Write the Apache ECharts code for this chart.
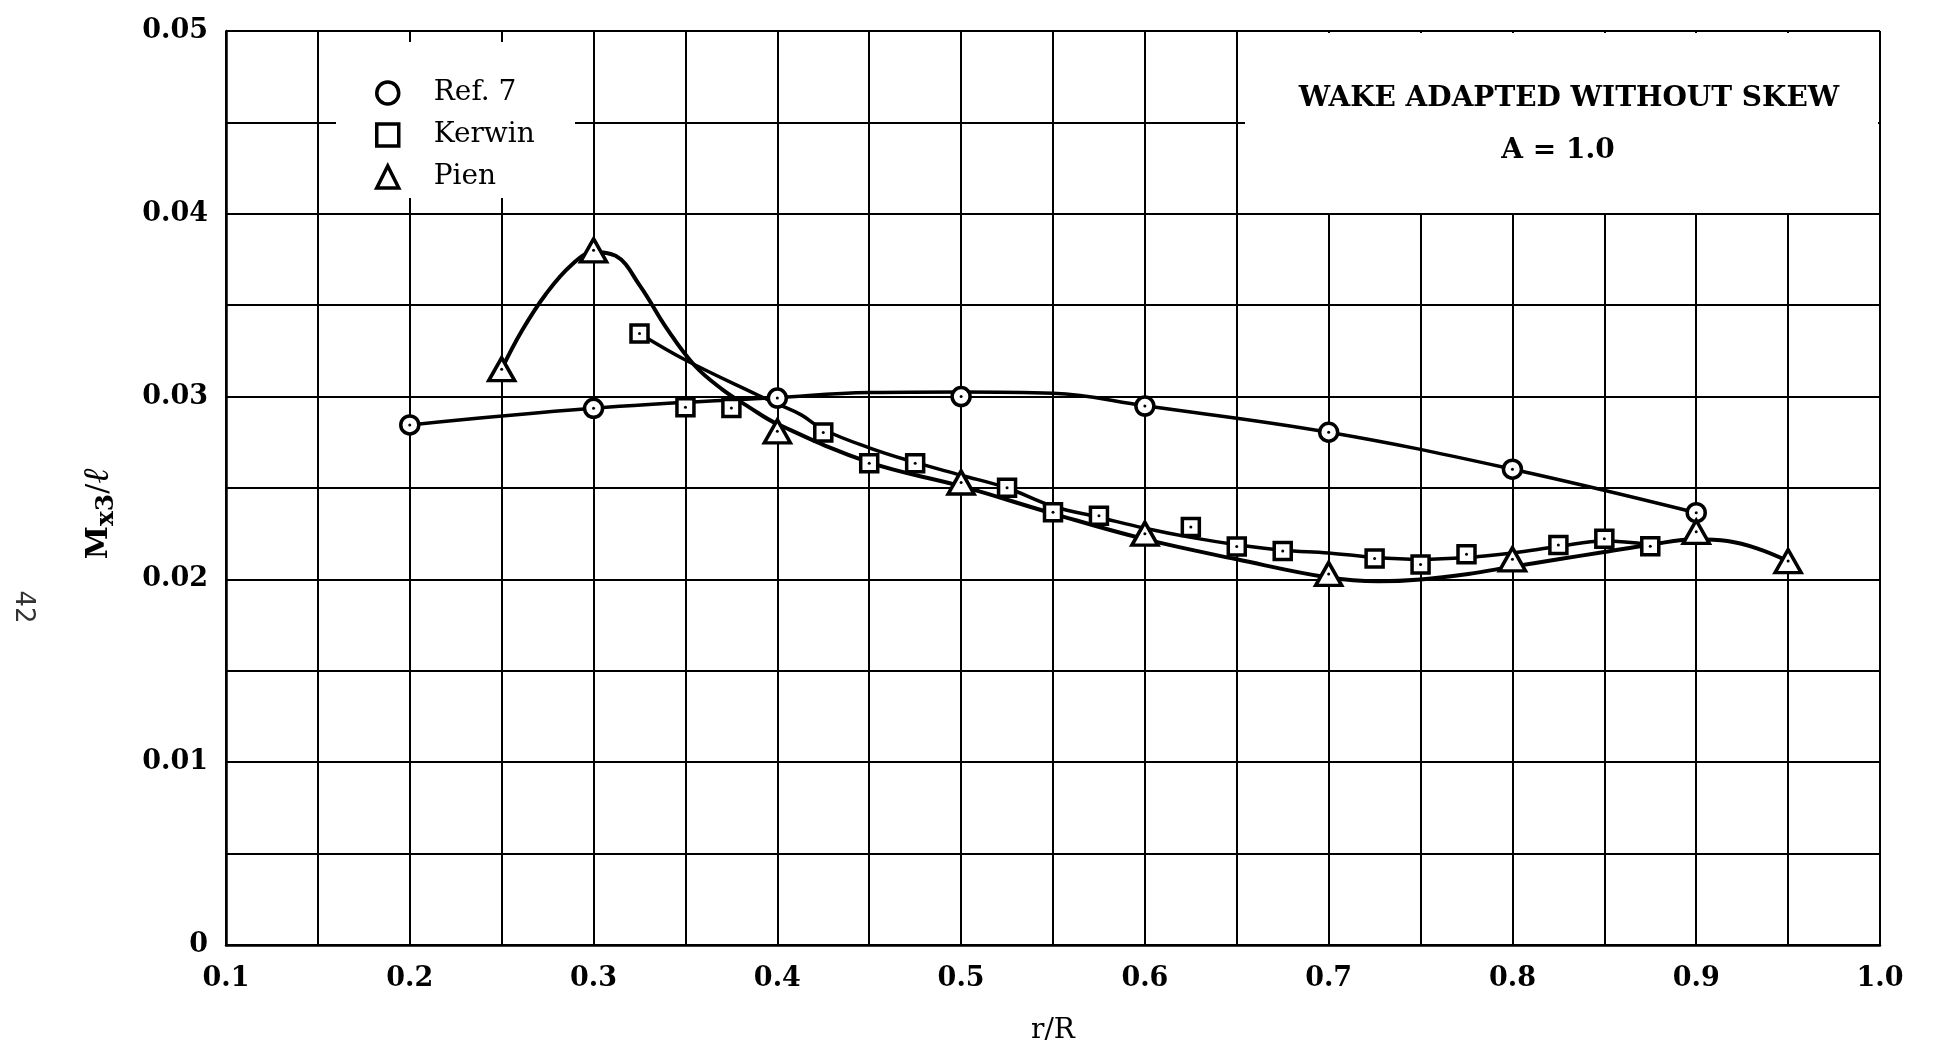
<!DOCTYPE html>
<html>
<head>
<meta charset="utf-8">
<script src="https://cdn.jsdelivr.net/npm/echarts@6/dist/echarts.min.js"></script>
<style>
  html, body { margin: 0; padding: 0; background: #fff; }
  #chart { width: 1934px; height: 1050px; }
</style>
</head>
<body>
<div id="chart"></div>
<script>
// Plotted points (r/R, Mx3/l) for each method
const ref7R = [0.2, 0.3, 0.4, 0.5, 0.6, 0.7, 0.8, 0.9];
const ref7M = [0.02845, 0.02936, 0.02992, 0.03000, 0.02948, 0.02805, 0.02603, 0.02365];

const kerwinR = [0.325, 0.35, 0.375, 0.425, 0.45, 0.475, 0.525, 0.55, 0.575, 0.625, 0.65, 0.675, 0.725, 0.75, 0.775, 0.825, 0.85, 0.875];
const kerwinM = [0.03345, 0.02942, 0.02938, 0.02804, 0.02636, 0.02636, 0.02502, 0.02368, 0.02348, 0.02287, 0.02180, 0.02155, 0.02115, 0.02082, 0.02138, 0.02188, 0.02222, 0.02182];

const pienR = [0.25, 0.3, 0.4, 0.5, 0.6, 0.7, 0.8, 0.9, 0.95];
const pienM = [0.0315, 0.0380, 0.0281, 0.0253, 0.0225, 0.0203, 0.0211, 0.0226, 0.0210];

// Faired curves drawn through the points
const ref7CurveR = [0.2, 0.3, 0.4, 0.45, 0.5, 0.55, 0.6, 0.7, 0.8, 0.9];
const ref7CurveM = [0.02845, 0.02936, 0.02995, 0.03022, 0.03025, 0.03018, 0.02950, 0.02805, 0.02603, 0.02365];

const kerwinCurveR = [0.325, 0.35, 0.389, 0.4, 0.413, 0.425, 0.45, 0.475, 0.5, 0.525, 0.55, 0.575, 0.6, 0.625, 0.65, 0.675, 0.7, 0.725, 0.75, 0.775, 0.8, 0.825, 0.85, 0.875];
const kerwinCurveM = [0.03345, 0.0320, 0.0301, 0.0296, 0.0290, 0.0282, 0.0272, 0.0264, 0.0257, 0.0250, 0.0240, 0.0234, 0.0228, 0.0223, 0.0219, 0.0216, 0.02145, 0.0212, 0.0211, 0.0212, 0.02145, 0.0218, 0.0221, 0.0219];

const pienCurveR = [0.25, 0.261, 0.274, 0.288, 0.3, 0.312, 0.325, 0.34, 0.355, 0.37, 0.385, 0.4, 0.45, 0.5, 0.55, 0.6, 0.65, 0.7, 0.727, 0.75, 0.776, 0.8, 0.825, 0.85, 0.875, 0.9, 0.917, 0.933, 0.95];
const pienCurveM = [0.0315, 0.0336, 0.0356, 0.0372, 0.0379, 0.0377, 0.0361, 0.0337, 0.0317, 0.0304, 0.0294, 0.0285, 0.0264, 0.0251, 0.0236, 0.0222, 0.0211, 0.0201, 0.0199, 0.0200, 0.0203, 0.0207, 0.0211, 0.0215, 0.0219, 0.0222, 0.0221, 0.0217, 0.0210];

// Axis ticks
const xTicks = [0.1, 0.2, 0.3, 0.4, 0.5, 0.6, 0.7, 0.8, 0.9, 1.0];
const yTicks = [0, 0.01, 0.02, 0.03, 0.04, 0.05];

const SERIF = "'DejaVu Serif', 'Liberation Serif', serif";
const pairs = (xs, ys) => xs.map((x, i) => [x, ys[i]]);
const markerStyle = { color: '#fff', borderColor: '#000', borderWidth: 3.5, opacity: 1 };

function curve(xs, ys, width) {
  return {
    type: 'line', data: pairs(xs, ys), smooth: 0.4, symbol: 'none', silent: true,
    lineStyle: { color: '#000', width: width }, z: 2
  };
}
function markers(name, xs, ys, symbol, size) {
  return {
    name: name, type: 'scatter', data: pairs(xs, ys), symbol: symbol, symbolSize: size,
    itemStyle: markerStyle, z: 3, silent: true
  };
}
function dots(xs, ys) {
  return {
    type: 'scatter', data: pairs(xs, ys), symbol: 'circle', symbolSize: 3,
    itemStyle: { color: '#000', opacity: 1 }, z: 4, silent: true
  };
}

const gridLine = { show: true, lineStyle: { color: '#000', width: 2 } };
const boldTitle = { fontFamily: SERIF, fontSize: 28, fontWeight: 'bold', color: '#000', lineHeight: 32 };

const chart = echarts.init(document.getElementById('chart'), null, { renderer: 'canvas' });
chart.setOption({
  backgroundColor: '#fff',
  animation: false,
  title: [
    { text: 'WAKE ADAPTED WITHOUT SKEW', left: 1564, top: 78, textAlign: 'center', textStyle: boldTitle },
    { text: 'A = 1.0', left: 1553, top: 130, textAlign: 'center', textStyle: boldTitle }
  ],
  legend: {
    orient: 'vertical', left: 370, top: 74,
    itemWidth: 22, itemHeight: 22, itemGap: 14,
    data: ['Ref. 7', 'Kerwin', 'Pien'],
    itemStyle: markerStyle,
    textStyle: { fontFamily: SERIF, fontSize: 28, color: '#000', padding: [0, 0, 0, 30], lineHeight: 22 },
    selectedMode: false
  },
  grid: { left: 226, right: 54, top: 31, bottom: 103 },
  xAxis: {
    type: 'value', min: xTicks[0], max: xTicks[xTicks.length - 1], interval: 0.1,
    name: 'r/R', nameLocation: 'middle', nameGap: 72,
    nameTextStyle: { fontFamily: SERIF, fontSize: 28, color: '#000' },
    axisLine: { show: true, onZero: false, lineStyle: { color: '#000', width: 2.5 } },
    axisTick: { show: false },
    axisLabel: {
      margin: 20, fontFamily: SERIF, fontSize: 27, fontWeight: 'bold', color: '#000',
      formatter: v => v.toFixed(1)
    },
    splitLine: gridLine,
    minorTick: { show: false, splitNumber: 2 },
    minorSplitLine: gridLine
  },
  yAxis: {
    type: 'value', min: yTicks[0], max: yTicks[yTicks.length - 1], interval: 0.01,
    axisLine: { show: true, onZero: false, lineStyle: { color: '#000', width: 2.5 } },
    axisTick: { show: false },
    axisLabel: {
      margin: 18, fontFamily: SERIF, fontSize: 27, fontWeight: 'bold', color: '#000',
      padding: [0, 0, 12, 0],
      formatter: v => (v === 0 ? '0' : v.toFixed(2))
    },
    splitLine: gridLine,
    minorTick: { show: false, splitNumber: 2 },
    minorSplitLine: gridLine
  },
  graphic: [
    // blank panel behind the legend
    { type: 'rect', z: 1, shape: { x: 336, y: 42, width: 239, height: 156 }, style: { fill: '#fff' }, silent: true },
    // blank panel behind the title
    { type: 'rect', z: 1, shape: { x: 1245, y: 33, width: 633, height: 180 }, style: { fill: '#fff' }, silent: true },
    // y-axis title
    {
      type: 'text', z: 5, x: 99, y: 514, rotation: Math.PI / 2,
      style: {
        text: '{m|M}{s|x3}{n|/}{l|ℓ}', align: 'center', verticalAlign: 'middle',
        rich: {
          m: { font: "bold 30px 'DejaVu Serif'", fill: '#000', lineHeight: 40 },
          s: { font: "bold 25px 'DejaVu Serif'", fill: '#000', lineHeight: 22, verticalAlign: 'bottom' },
          n: { font: "30px 'DejaVu Serif'", fill: '#000', lineHeight: 40 },
          l: { font: "italic 36px 'DejaVu Serif'", fill: '#000', lineHeight: 40 }
        }
      }
    },
    // page number printed sideways in the margin
    {
      type: 'text', z: 5, x: 23, y: 607, rotation: -Math.PI / 2,
      style: { text: '42', font: "26px 'DejaVu Sans'", fill: '#333', align: 'center', verticalAlign: 'middle' }
    }
  ],
  series: [
    curve(ref7CurveR, ref7CurveM, 3.5),
    curve(kerwinCurveR, kerwinCurveM, 3.5),
    curve(pienCurveR, pienCurveM, 4),
    markers('Ref. 7', ref7R, ref7M, 'circle', 18),
    markers('Kerwin', kerwinR, kerwinM, 'rect', 17),
    markers('Pien', pienR, pienM, 'triangle', [26, 23]),
    dots(ref7R, ref7M),
    dots(kerwinR, kerwinM),
    dots(pienR, pienM)
  ]
});
</script>
</body>
</html>
